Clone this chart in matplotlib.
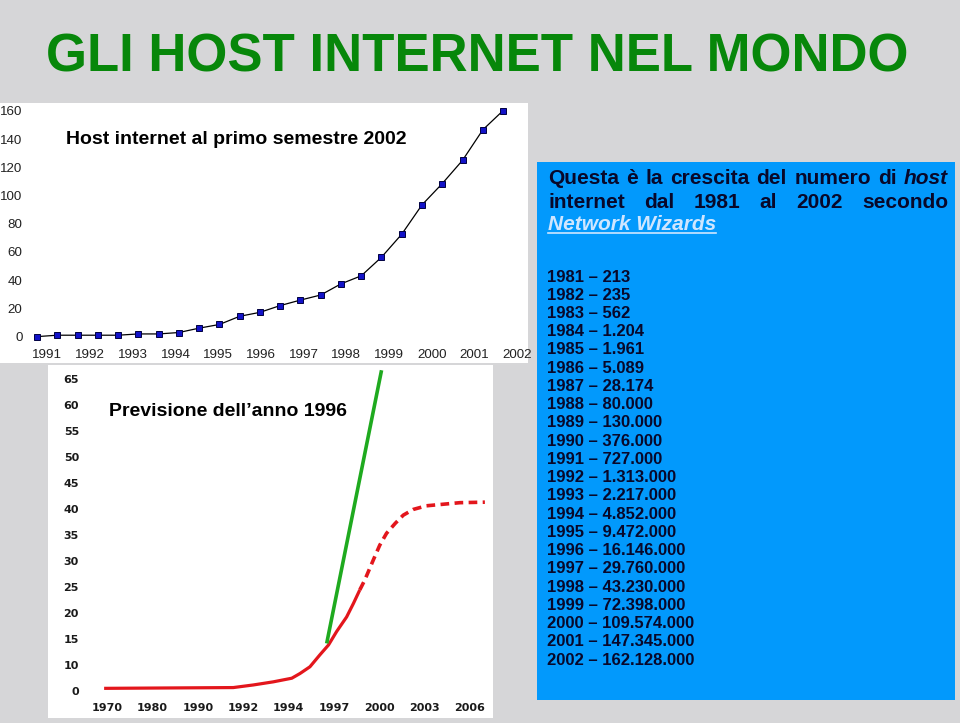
import matplotlib
matplotlib.use('Agg')
import matplotlib.pyplot as plt
import matplotlib.transforms as mtransforms
from matplotlib.patches import Rectangle
import numpy as np

# ---------------- data ----------------
title = "GLI HOST INTERNET NEL MONDO"

# top chart: host internet (milioni), semestrale 1991-2002
top_values = [0, 1.0, 1.0, 1.0, 1.0, 1.9, 1.9, 2.9, 6.0, 8.6, 14.4, 17.2,
              22.0, 25.9, 29.5, 37.4, 43.1, 56.3, 72.6, 93.4, 108.5, 125.0,
              146.6, 160.2]
top_xlabels = ['1991', '1992', '1993', '1994', '1995', '1996', '1997',
               '1998', '1999', '2000', '2001', '2002']
top_yticks = [0, 20, 40, 60, 80, 100, 120, 140, 160]
top_title = "Host internet al primo semestre 2002"

# bottom chart: previsione 1996 (x in tick slots, y in scale slots)
bottom_xlabels = ['1970', '1980', '1990', '1992', '1994', '1997', '2000',
                  '2003', '2006']
bottom_ylabels = ['0', '10', '15', '20', '25', '30', '35', '40', '45', '50',
                  '55', '60', '65']
red_solid_x = [-0.07, 2.78, 3.22, 3.66, 4.07, 4.25, 4.47, 4.69, 4.88, 5.06,
               5.28, 5.43, 5.57]
red_solid_y = [0.45, 0.6, 1.1, 1.7, 2.4, 3.3, 4.6, 6.9, 8.8, 11.4, 14.2,
               16.8, 19.4]
red_dash_x = [5.57, 5.68, 5.87, 6.01, 6.16, 6.35, 6.53, 6.75, 7.04, 7.41,
              7.78, 8.33]
red_dash_y = [19.4, 21.3, 25.2, 28.0, 30.3, 32.2, 33.8, 34.9, 35.6, 35.9,
              36.2, 36.3]
green_x = [4.84, 6.05]
green_y = [9.1, 61.7]
bottom_title = "Previsione dell\u2019anno 1996"

# table in the blue box
host_years = list(range(1981, 2003))
host_counts = [213, 235, 562, 1204, 1961, 5089, 28174, 80000, 130000,
               376000, 727000, 1313000, 2217000, 4852000, 9472000, 16146000,
               29760000, 43230000, 72398000, 109574000, 147345000, 162128000]

# ---------------- figure ----------------
W, H = 960, 723
fig = plt.figure(figsize=(W / 100, H / 100), dpi=100)
fig.patch.set_facecolor('#d6d6d8')
PX = mtransforms.Affine2D().scale(1 / W, -1 / H).translate(0, 1) + fig.transFigure


def rect(x0, y0, x1, y1):
    return [x0 / W, 1 - y1 / H, (x1 - x0) / W, (y1 - y0) / H]


SANS = ['Liberation Sans', 'DejaVu Sans']

# title
fig.text(477, 58, title, transform=PX, ha='center', va='center',
         fontsize=38, fontweight='bold', color='#07870a', family=SANS)

# ---------------- top chart ----------------
ax1 = fig.add_axes(rect(0, 103, 528, 363))
ax1.set_facecolor('white')
x_top = np.arange(len(top_values))
ax1.plot(x_top, top_values, color='black', lw=0.9, marker='s',
         markersize=5, markerfacecolor='#1212c8', markeredgecolor='#000040',
         markeredgewidth=0.7, clip_on=False)
ax1.set_xlim(-1.826, 24.23)
ax1.set_ylim(-18.7, 165.6)
ax1.set_xticks(np.linspace(0.51, 23.7, len(top_xlabels)))
ax1.set_xticklabels(top_xlabels)
ax1.set_yticks(top_yticks)
ax1.set_yticklabels([str(v) for v in top_yticks])
for s in ax1.spines.values():
    s.set_visible(False)
ax1.tick_params(axis='y', length=0, pad=-16.2, labelsize=9.6, labelcolor='#222222')
ax1.tick_params(axis='x', length=0, pad=-10.0, labelsize=9.6, labelcolor='#222222')
for lab in ax1.get_xticklabels() + ax1.get_yticklabels():
    lab.set_family(SANS)
ax1.text(66, 139, top_title, transform=PX, ha='left', va='center',
         fontsize=14, fontweight='bold', color='black', family=SANS)

# ---------------- bottom chart ----------------
ax2 = fig.add_axes(rect(48, 365, 493, 718))
ax2.set_facecolor('white')
ax2.plot(red_solid_x, red_solid_y, color='#e3161c', lw=2.3,
         solid_capstyle='butt')
ax2.plot(red_dash_x, red_dash_y, color='#e3161c', lw=2.6,
         linestyle=(0, (2.4, 1.5)))
ax2.plot(green_x, green_y, color='#1faa1f', lw=2.6, solid_capstyle='butt')
ax2.set_xlim(-1.308, 8.509)
ax2.set_ylim(-5.26, 62.71)
ax2.set_xticks(np.arange(len(bottom_xlabels)))
ax2.set_xticklabels(bottom_xlabels)
ax2.set_yticks(np.arange(len(bottom_ylabels)) * 5)
ax2.set_yticklabels(bottom_ylabels)
for s in ax2.spines.values():
    s.set_visible(False)
ax2.tick_params(axis='y', length=0, pad=-22.3, labelsize=8, labelcolor='#1a1a1a')
ax2.tick_params(axis='x', length=0, pad=-10.8, labelsize=8, labelcolor='#1a1a1a')
for lab in ax2.get_xticklabels() + ax2.get_yticklabels():
    lab.set_family('DejaVu Sans')
    lab.set_fontweight('bold')
ax2.text(109, 411, bottom_title, transform=PX, ha='left', va='center',
         fontsize=14, fontweight='bold', color='black', family=SANS)

# ---------------- blue box ----------------
fig.patches.append(Rectangle((537, 162), 955 - 537, 700 - 162, transform=PX,
                             facecolor='#0299fc', edgecolor='none', zorder=0))

renderer = fig.canvas.get_renderer()
TXT = '#08082a'


def justify(words, y, x0, x1, size=15):
    objs = []
    for w, style, color in words:
        t = fig.text(0, y, w, transform=PX, ha='left', va='center',
                     fontsize=size, fontweight='bold', fontstyle=style,
                     color=color, family=SANS)
        objs.append(t)
    widths = [o.get_window_extent(renderer).width for o in objs]
    gap = (x1 - x0 - sum(widths)) / (len(objs) - 1)
    x = x0
    for o, wd in zip(objs, widths):
        o.set_x(x)
        x += wd + gap


line1 = [(w, 'normal', TXT) for w in "Questa è la crescita del numero di".split()]
line1.append(('host', 'italic', TXT))
justify(line1, 179, 548, 948)
line2 = [(w, 'normal', TXT) for w in "internet dal 1981 al 2002 secondo".split()]
justify(line2, 202, 548, 948)
nw = fig.text(548, 224, "Network Wizards", transform=PX, ha='left',
              va='center', fontsize=15, fontweight='bold', fontstyle='italic',
              color='#cfe6ff', family=SANS)
wnw = nw.get_window_extent(renderer).width
fig.add_artist(plt.Line2D([548, 548 + wnw], [233, 233], transform=PX,
                          color='#cfe6ff', lw=1.2))

for i, (yr, n) in enumerate(zip(host_years, host_counts)):
    s = f"{yr} \u2013 " + f"{n:,}".replace(',', '.')
    fig.text(547, 277 + i * 18.24, s, transform=PX, ha='left', va='center',
             fontsize=12, fontweight='bold', color=TXT, family=SANS)

fig.savefig('out.png', dpi=100, facecolor=fig.get_facecolor())
